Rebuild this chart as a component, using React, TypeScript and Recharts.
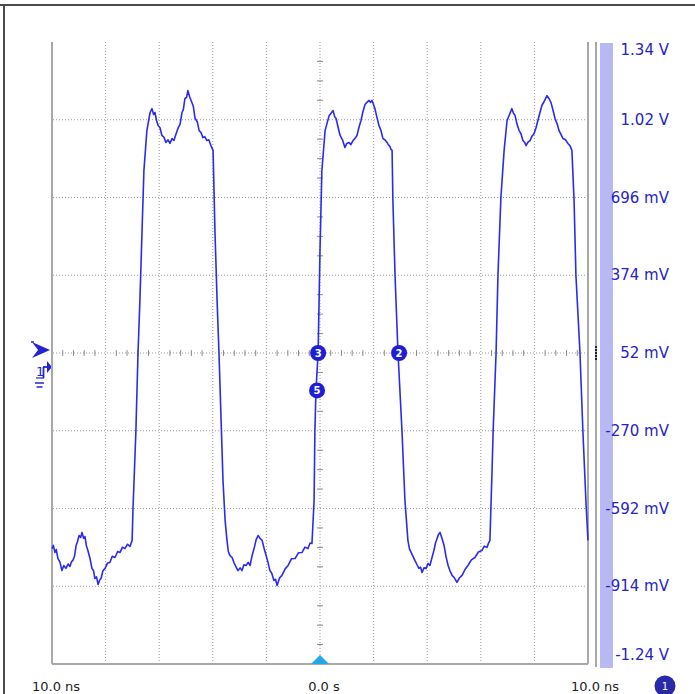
import React from 'react';
import { LineChart, Line, XAxis, YAxis, ReferenceLine, ReferenceDot } from 'recharts';

// Channel 1 trace: [time ns, voltage mV]
const low1: [number, number][] = [
  [-10.0, -758], [-9.95, -745], [-9.89, -774], [-9.84, -762], [-9.78, -799], [-9.7, -815], [-9.63, -849], [-9.56, -828],
  [-9.48, -840], [-9.4, -822], [-9.33, -832], [-9.27, -812], [-9.22, -807], [-9.16, -790], [-9.1, -745], [-9.05, -730],
  [-8.99, -704], [-8.93, -712], [-8.88, -691], [-8.82, -715], [-8.77, -708], [-8.72, -745], [-8.66, -766], [-8.58, -800],
  [-8.51, -840], [-8.45, -850], [-8.4, -882], [-8.34, -875], [-8.28, -907], [-8.22, -888], [-8.17, -882], [-8.1, -850],
  [-8.02, -840], [-7.93, -818], [-7.84, -816], [-7.75, -790], [-7.65, -795], [-7.55, -770], [-7.46, -774], [-7.37, -752],
  [-7.28, -758], [-7.18, -740], [-7.09, -749],
];
const rise1: [number, number][] = [
  [-7.01, -724], [-6.98, -600], [-6.87, -273], [-6.79, 54], [-6.72, 269], [-6.64, 559], [-6.57, 808], [-6.46, 973], [-6.34, 1048],
];
const top1: [number, number][] = [
  [-6.27, 1064], [-6.21, 1040], [-6.16, 1048], [-6.1, 1015], [-6.04, 994], [-5.97, 985], [-5.9, 953], [-5.82, 945],
  [-5.75, 924], [-5.67, 935], [-5.6, 920], [-5.52, 940], [-5.45, 932], [-5.37, 960], [-5.3, 982], [-5.22, 1000],
  [-5.15, 1048], [-5.1, 1060], [-5.04, 1106], [-4.98, 1110], [-4.93, 1139], [-4.87, 1115], [-4.81, 1098], [-4.73, 1075],
  [-4.66, 1023], [-4.58, 1010], [-4.51, 973], [-4.44, 965], [-4.37, 944], [-4.3, 948], [-4.22, 932], [-4.15, 935], [-4.07, 911],
];
const fall1: [number, number][] = [
  [-3.99, 891], [-3.92, 559], [-3.84, 269], [-3.77, 54], [-3.69, -228], [-3.62, -476], [-3.54, -642],
];
const low2: [number, number][] = [
  [-3.47, -724], [-3.42, -770], [-3.36, -787], [-3.28, -795], [-3.21, -816], [-3.13, -835], [-3.06, -849], [-2.98, -838],
  [-2.91, -849], [-2.84, -825], [-2.76, -828], [-2.68, -815], [-2.61, -828], [-2.54, -790], [-2.46, -758], [-2.38, -720],
  [-2.31, -704], [-2.24, -715], [-2.16, -724], [-2.08, -760], [-2.01, -787], [-1.94, -815], [-1.87, -849], [-1.8, -860],
  [-1.72, -890], [-1.66, -885], [-1.6, -911], [-1.51, -880], [-1.42, -869], [-1.3, -842], [-1.19, -828], [-1.06, -800],
  [-0.93, -799], [-0.8, -775], [-0.67, -774], [-0.56, -752], [-0.45, -758], [-0.37, -735], [-0.3, -737],
];
const rise2: [number, number][] = [
  [-0.22, -559], [-0.19, -269], [-0.15, -103], [-0.07, 54], [0.0, 476], [0.07, 808], [0.19, 973], [0.34, 1035],
];
const top2: [number, number][] = [
  [0.49, 1056], [0.55, 1030], [0.6, 1023], [0.68, 985], [0.75, 953], [0.84, 935], [0.93, 903], [1.0, 920],
  [1.08, 924], [1.15, 915], [1.23, 932], [1.3, 940], [1.38, 953], [1.45, 985], [1.53, 1015], [1.6, 1050],
  [1.68, 1081], [1.75, 1090], [1.83, 1098], [1.88, 1090], [1.94, 1098], [2.0, 1080], [2.05, 1064], [2.12, 1030],
  [2.2, 994], [2.27, 975], [2.35, 940], [2.42, 935], [2.5, 924], [2.55, 915], [2.61, 907], [2.65, 895], [2.69, 891],
];
const fall2: [number, number][] = [
  [2.72, 684], [2.8, 373], [2.91, 54], [3.06, -273], [3.17, -559],
];
const low3: [number, number][] = [
  [3.28, -724], [3.34, -760], [3.4, -774], [3.47, -790], [3.54, -807], [3.62, -825], [3.69, -840], [3.75, -835],
  [3.81, -857], [3.88, -838], [3.96, -840], [4.03, -820], [4.1, -828], [4.18, -795], [4.25, -766], [4.31, -735],
  [4.37, -716], [4.42, -700], [4.48, -691], [4.55, -715], [4.63, -745], [4.7, -790], [4.78, -828], [4.85, -850],
  [4.93, -869], [5.02, -880], [5.11, -898], [5.2, -880], [5.3, -869], [5.41, -845], [5.52, -828], [5.65, -805],
  [5.78, -795], [5.91, -772], [6.04, -766], [6.13, -748], [6.23, -753], [6.29, -735], [6.34, -724],
];
const rise3: [number, number][] = [
  [6.42, -435], [6.46, -273], [6.57, 54], [6.64, 373], [6.75, 696], [6.87, 891], [6.98, 1015],
];
const top3: [number, number][] = [
  [7.16, 1064], [7.22, 1045], [7.28, 1035], [7.35, 1000], [7.43, 973], [7.5, 960], [7.57, 932], [7.63, 925],
  [7.69, 911], [7.76, 925], [7.84, 932], [7.91, 950], [7.99, 961], [8.06, 985], [8.13, 1015], [8.2, 1045],
  [8.28, 1077], [8.37, 1095], [8.47, 1118], [8.55, 1105], [8.62, 1089], [8.7, 1055], [8.77, 1023], [8.85, 1000],
  [8.92, 973], [9.0, 955], [9.07, 940], [9.16, 935], [9.25, 920], [9.33, 910], [9.4, 891],
];
const fall3: [number, number][] = [
  [9.48, 684], [9.55, 373], [9.7, 54], [9.81, -273], [9.93, -580], [10.0, -724],
];

const gridTimes = [-10, -8, -6, -4, -2, 0, 2, 4, 6, 8, 10];
const gridVolts = [-1236, -914, -592, -270, 52, 374, 696, 1018, 1340];
const voltLabels = ['-1.24 V', '-914 mV', '-592 mV', '-270 mV', '52 mV', '374 mV', '696 mV', '1.02 V', '1.34 V'];
const timeLabelTimes = [-10, 0, 10];
const timeLabels = ['10.0 ns', '0.0 s', '10.0 ns'];

const cursorLabels = ['3', '2', '5'];
const cursorTimes = [-0.07, 2.95, -0.11];
const cursorVolts = [52, 52, -103];

const data = [
  ...low1, ...rise1, ...top1, ...fall1, ...low2, ...rise2, ...top2, ...fall2, ...low3, ...rise3, ...top3, ...fall3,
].map(([t, v]) => ({ t, v }));

const minorVolts: number[] = [];
for (let k = 1; k < 32; k++) if (k % 4 !== 0) minorVolts.push(-1236 + k * 80.5);
const minorTimes: number[] = [];
for (let k = 1; k < 50; k++) if (k % 5 !== 0) minorTimes.push(-10 + k * 0.4);

const FONT = "'DejaVu Sans', Verdana, sans-serif";

const XTick = (props: any) => {
  const { x, y, payload } = props;
  const idx = timeLabelTimes.indexOf(payload.value);
  if (idx < 0) return null;
  const dx = idx === 2 ? 7 : 4;
  return (
    <text x={x + dx} y={y} dy={19} textAnchor="middle" fontSize={13} fontFamily={FONT} fill="#222">
      {timeLabels[idx]}
    </text>
  );
};

const YTick = (props: any) => {
  const { x, y, payload } = props;
  const idx = gridVolts.indexOf(payload.value);
  if (idx < 0) return null;
  let off = 0;
  if (idx === gridVolts.length - 1) off = 8;
  if (idx === 0) off = -9;
  return (
    <text x={x + 73} y={y + off} dy={5} textAnchor="end" fontSize={15} fontFamily={FONT} fill="#2424c8">
      {voltLabels[idx]}
    </text>
  );
};

export default function App() {
  return (
    <div style={{ position: 'absolute', left: 0, top: 0, width: 695, height: 694, background: '#fff', overflow: 'hidden' }}>
      <div style={{ position: 'absolute', left: 0, top: 4, width: 695, height: 2, background: '#4a4a4a' }} />
      <div style={{ position: 'absolute', left: 3, top: 4, width: 2, height: 690, background: '#4a4a4a' }} />
      <div style={{ position: 'absolute', left: 595, top: 42, width: 2, height: 625, background: '#a8a8a8' }} />
      <div style={{ position: 'absolute', left: 600, top: 43, width: 13, height: 625, background: '#b8b8f2' }} />
      {[346, 349, 352, 355, 358].map((yy) => (
        <div key={yy} style={{ position: 'absolute', left: 595, top: yy, width: 2, height: 1.5, background: '#222' }} />
      ))}
      <svg style={{ position: 'absolute', left: 0, top: 0 }} width={695} height={694}>
        <line x1={31} y1={342} x2={34} y2={342} stroke="#2424d0" strokeWidth={1.5} />
        <polygon points="32,342 50,350 32,358 38,350" fill="#2424d0" />
        <text x={36} y={376} fontSize={13} fontFamily={FONT} fill="#2424d0">1</text>
        <line x1={36} y1={378} x2={44} y2={378} stroke="#2424d0" strokeWidth={1.2} />
        <line x1={43.5} y1={378} x2={43.5} y2={367} stroke="#2424d0" strokeWidth={1.8} />
        <line x1={43} y1={367} x2={47} y2={367} stroke="#2424d0" strokeWidth={1.8} />
        <polygon points="47,361 52,367 47,373" fill="#2424d0" />
        <line x1={35} y1={383} x2={44} y2={383} stroke="#2424d0" strokeWidth={1.5} />
        <line x1={36.5} y1={387} x2={42.5} y2={387} stroke="#2424d0" strokeWidth={1.5} />
        <circle cx={665} cy={686} r={10.5} fill="#2a2aa8" />
        <text x={665} y={690} textAnchor="middle" fontSize={10} fontFamily={FONT} fill="#fff">1</text>
      </svg>
      <div style={{ position: 'absolute', left: 0, top: 0 }}>
        <LineChart width={695} height={694} data={data} margin={{ top: 42, right: 0, bottom: 0, left: 52 }}>
          <XAxis
            dataKey="t"
            type="number"
            domain={[-10, 10]}
            ticks={gridTimes}
            interval={0}
            axisLine={false}
            tickLine={false}
            height={30}
            tick={<XTick />}
          />
          <YAxis
            type="number"
            orientation="right"
            domain={[-1236, 1340]}
            ticks={gridVolts}
            interval={0}
            axisLine={false}
            tickLine={false}
            width={107}
            tick={<YTick />}
          />
          {gridTimes.slice(1, -1).map((t) => (
            <ReferenceLine key={'gx' + t} x={t} stroke="#9a9a9a" strokeDasharray="1 2" />
          ))}
          {gridVolts.slice(1, -1).map((v) => (
            <ReferenceLine key={'gy' + v} y={v} stroke="#9a9a9a" strokeDasharray="1 2" />
          ))}
          {minorVolts.map((v) => (
            <ReferenceLine key={'mv' + v} segment={[{ x: -0.11, y: v }, { x: 0.11, y: v }]} stroke="#888" />
          ))}
          {minorTimes.map((t) => (
            <ReferenceLine key={'mt' + t} segment={[{ x: t, y: 40 }, { x: t, y: 64 }]} stroke="#888" />
          ))}
          <ReferenceLine x={-10} stroke="#a8a8a8" strokeWidth={2} />
          <ReferenceLine x={10} stroke="#a8a8a8" strokeWidth={2} />
          <ReferenceLine y={-1236} stroke="#a8a8a8" strokeWidth={2} />
          <Line
            type="linear"
            dataKey="v"
            stroke="#2b2bf0"
            strokeWidth={1.6}
            strokeLinejoin="round"
            dot={false}
            isAnimationActive={false}
          />
          <ReferenceDot
            x={0}
            y={-1236}
            r={9}
            shape={(p: any) => (
              <polygon points={`${p.cx},${p.cy - 9} ${p.cx - 9},${p.cy} ${p.cx + 9},${p.cy}`} fill="#22a8e8" />
            )}
          />
          {cursorLabels.map((lab, i) => (
            <ReferenceDot
              key={'c' + lab}
              x={cursorTimes[i]}
              y={cursorVolts[i]}
              r={8}
              shape={(p: any) => (
                <g>
                  <circle cx={p.cx} cy={p.cy} r={8} fill="#1e1ed8" />
                  <text x={p.cx} y={p.cy + 4} textAnchor="middle" fontSize={10} fontWeight="bold" fontFamily={FONT} fill="#fff">
                    {lab}
                  </text>
                </g>
              )}
            />
          ))}
        </LineChart>
      </div>
    </div>
  );
}
